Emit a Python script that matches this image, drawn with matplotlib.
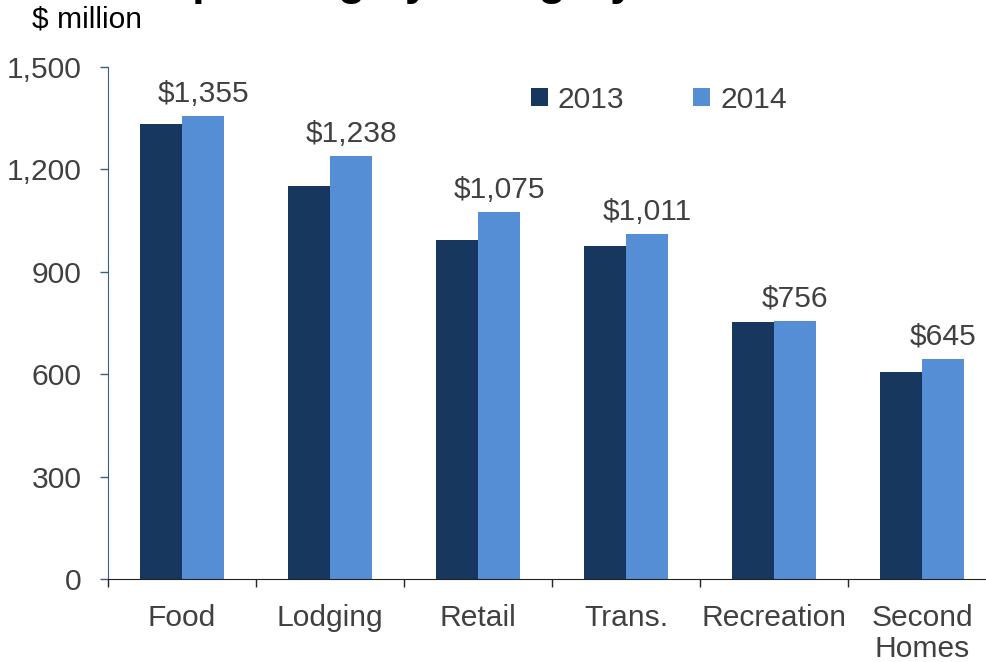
import matplotlib
matplotlib.use("Agg")
import matplotlib.pyplot as plt
from matplotlib.patches import Patch
import numpy as np

categories = ["Food", "Lodging", "Retail", "Trans.", "Recreation", "Second\nHomes"]
values_2013 = [1333, 1151, 993, 976, 753, 606]
values_2014 = [1355, 1238, 1075, 1011, 756, 645]
series_names = ["2013", "2014"]
yticks = [0, 300, 600, 900, 1200, 1500]

DARK = "#17375E"
LIGHT = "#558ED5"
TEXT = "#404040"
FS = 21.6

plt.rcParams['font.family'] = ['Liberation Sans', 'DejaVu Sans']

fig = plt.figure(figsize=(9.86, 6.62), dpi=100)
W, H = 986, 662
left, right, bottom, top = 108, 996, 579, 67
ax = fig.add_axes([left / W, (H - bottom) / H, (right - left) / W, (bottom - top) / H])

x = np.arange(len(categories))
bw = 0.285
ax.bar(x - bw / 2, values_2013, width=bw, color=DARK, label=series_names[0])
ax.bar(x + bw / 2, values_2014, width=bw, color=LIGHT, label=series_names[1])

for xi, v in zip(x, values_2014):
    ax.annotate(f"${v:,}", xy=(xi + bw / 2, v), xytext=(0, 6), textcoords="offset points",
                ha="center", va="bottom", fontsize=FS, color=TEXT)

ax.set_xlim(-0.5, len(categories) - 0.5)
ax.set_ylim(0, 1500)
ax.set_yticks(yticks)
ax.set_yticklabels([f"{t:,}" for t in yticks])
ax.set_xticks(x)
ax.set_xticklabels(categories, linespacing=1.15)
ax.set_xticks(np.arange(len(categories) + 1) - 0.5, minor=True)

ax.tick_params(axis="x", which="major", length=0, pad=18, labelsize=FS, labelcolor=TEXT)
ax.tick_params(axis="x", which="minor", length=6, width=1, color="#222222", direction="out")
ax.tick_params(axis="y", which="major", length=6, width=1, color="#385D8A", pad=13,
               labelsize=FS, labelcolor=TEXT, direction="out")

for s in ["top", "right"]:
    ax.spines[s].set_visible(False)
ax.spines["left"].set_color("#385D8A")
ax.spines["bottom"].set_color("#222222")

handles = [Patch(facecolor=DARK, label=series_names[0]), Patch(facecolor=LIGHT, label=series_names[1])]
fig.legend(handles=handles, loc="center left", bbox_to_anchor=(531 / W, 1 - 100 / H), ncol=2,
           frameon=False, fontsize=FS, handlelength=0.55, handleheight=0.55,
           handletextpad=0.34, columnspacing=2.3, borderpad=0, borderaxespad=0,
           labelcolor=TEXT)

fig.text(32 / W, 1 - 27 / H, "$ million", fontsize=FS, color="black", ha="left", va="baseline")
fig.text(47 / W, 1 + 5 / H, "Total Spending by Category", fontsize=32, fontweight="bold",
         color="black", ha="left", va="baseline")

fig.savefig("out.png", dpi=100)
